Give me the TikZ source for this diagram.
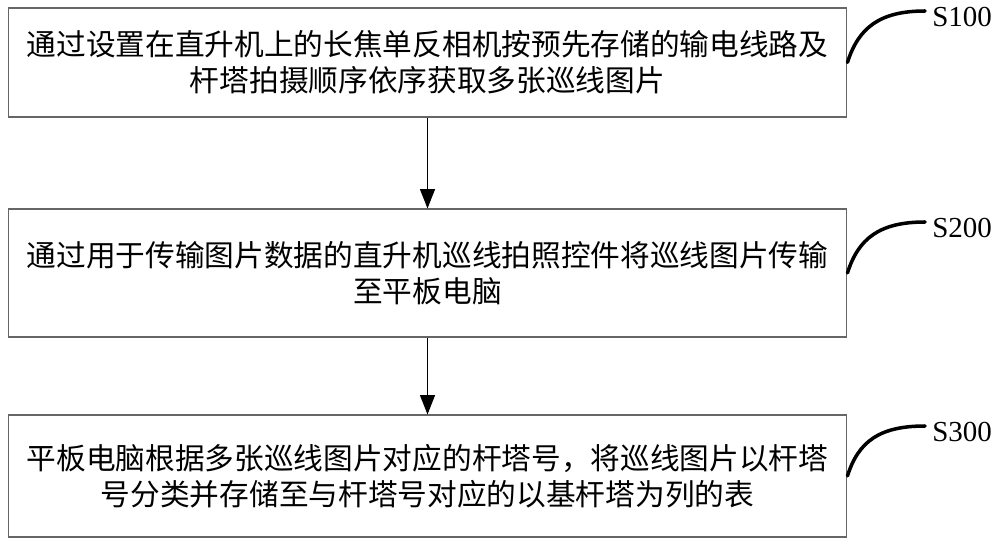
\documentclass[tikz,border=0pt]{standalone}
\usepackage{fontspec}
\setmainfont{Liberation Serif}
\newfontfamily\cjk{Noto Sans CJK SC}
\usetikzlibrary{arrows.meta}

\begin{document}
\begin{tikzpicture}[x=0.02cm, y=-0.02cm,
    stepbox/.style={draw=black!60, line width=.6pt, minimum width=16.78cm, inner sep=0pt,
        align=center, font=\cjk\fontsize{16.9}{20.5}\selectfont},
    steplabel/.style={anchor=west, inner sep=0pt, font=\fontsize{16.5}{18}\selectfont},
    bend line/.style={line width=2pt, line cap=round}]
            \useasboundingbox (0,0) rectangle (1000,547);
            % Steps
            \foreach \i/\y/\h/\txt in {1/62.5/2.18/{通过设置在直升机上的长焦单反相机按预先存储的输电线路及\\杆塔拍摄顺序依序获取多张巡线图片},
                                      2/273/2.56/{通过用于传输图片数据的直升机巡线拍照控件将巡线图片传输\\至平板电脑},
                                      3/476/2.44/{平板电脑根据多张巡线图片对应的杆塔号，将巡线图片以杆塔\\号分类并存储至与杆塔号对应的以基杆塔为列的表}} {
                \node[stepbox, minimum height=\h cm] (Step-\i) at (427.5,\y) {\txt};
            }
            % Labels
            \foreach \i/\y in {1/17,2/228,3/432} {
                \node[steplabel] (Label-\i) at (932,\y) {S\i00};
                \coordinate (Tip-\i) at (925,\y-6);
                \draw[bend line] (Step-\i.east) .. controls +(11,-35) and +(-45,0) .. (Tip-\i);
            }
            % Arrows
            \foreach \i/\j in {1/2,2/3} {
                \draw[-{Triangle[width=8.5pt,length=11pt]}, line width=.7pt] (Step-\i) -- (Step-\j);
            }
        \end{tikzpicture}
\end{document}
